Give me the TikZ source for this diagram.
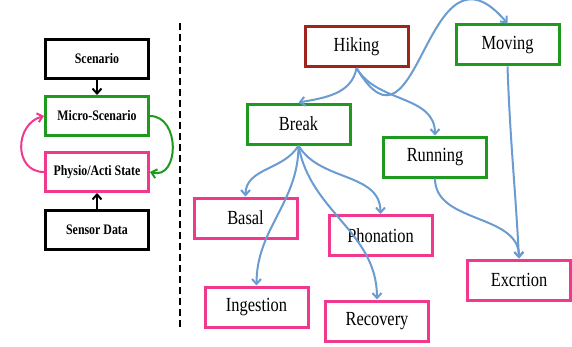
\documentclass[tikz,border=0pt]{standalone}
\usepackage{fontspec}
\setmainfont[FakeStretch=0.82]{Liberation Serif}
\usetikzlibrary{arrows.meta}
\definecolor{hikered}{HTML}{A0231C}
\definecolor{boxgreen}{HTML}{1E9A1E}
\definecolor{boxpink}{HTML}{F0388F}
\definecolor{linkblue}{HTML}{6A9BD1}
\begin{document}
\begin{tikzpicture}[
  x=1pt, y=1pt,
  lbox/.style={draw, line width=3pt, fill=white, align=center,
               minimum width=103pt, minimum height=39pt, inner sep=2pt,
               font=\fontsize{14.5}{16}\selectfont\bfseries},
  rbox/.style={draw, line width=3pt, fill=white, align=center,
               minimum width=103pt, minimum height=40pt, inner sep=2pt,
               font=\fontsize{20}{22}\selectfont},
  arrow/.style={-{Straight Barb[length=5pt,width=9pt]}, line width=2pt},
  link/.style={arrow, linkblue},
  sep/.style={line width=2pt, dash pattern=on 7pt off 4pt}]
\useasboundingbox (0,0) rectangle (572,346);
% left: layered model
\node[lbox, draw=black]    (scen)   at (97,287)   {Scenario};
\node[lbox, draw=boxgreen] (micro)  at (97,230)   {Micro-Scenario};
\node[lbox, draw=boxpink]  (physio) at (97,174)   {Physio/Acti State};
\node[lbox, draw=black]    (sensor) at (97,116.5) {Sensor Data};
\draw[arrow] (scen) -- (micro);
\draw[arrow] (sensor) -- (physio);
\draw[arrow, boxpink]  (physio.west) to[out=180, in=195, looseness=1.4] (micro.west);
\draw[arrow, boxgreen] (micro.east)  to[out=0, in=-15, looseness=1.4] (physio.east);
% separator
\coordinate (septop) at (180,323);
\coordinate (sepbot) at (180,16);
\draw[sep] (septop) -- (sepbot);
% right: scenario tree
\node[rbox, draw=hikered]  (hiking)    at (356.5,299.5) {Hiking};
\node[rbox, draw=boxgreen] (break)     at (298.5,222)   {Break};
\node[rbox, draw=boxgreen] (moving)    at (507.5,301)   {Moving};
\node[rbox, draw=boxgreen] (running)   at (435,189)     {Running};
\node[rbox, draw=boxpink]  (basal)     at (245.5,128)   {Basal};
\node[rbox, draw=boxpink]  (phonation) at (380.5,110.5) {Phonation};
\node[rbox, draw=boxpink]  (ingestion) at (256.5,39)    {Ingestion};
\node[rbox, draw=boxpink]  (recovery)  at (377,25)      {Recovery};
\node[rbox, draw=boxpink]  (exertion)  at (519,66)      {Excrtion};
\draw[link] (hiking.south) to[out=-100, in=10] (break.north);
\draw[link] (hiking.south) to[out=-60, in=90] (running.north);
\draw[link] (hiking.south) .. controls (420,171) and (425,420) .. (moving.north);
\draw[link] (break.south) to[out=-120, in=90] (basal.north);
\draw[link] (break.south) to[out=-90, in=90] (ingestion.north);
\draw[link] (break.south) to[out=-60, in=90] (phonation.north);
\draw[link] (break.south) to[out=-80, in=90] (recovery.north);
\draw[link] (running.south) to[out=-90, in=90] (exertion.north);
\draw[link] (moving.south) to[out=-88, in=93] (exertion.north);
\end{tikzpicture}
\end{document}
